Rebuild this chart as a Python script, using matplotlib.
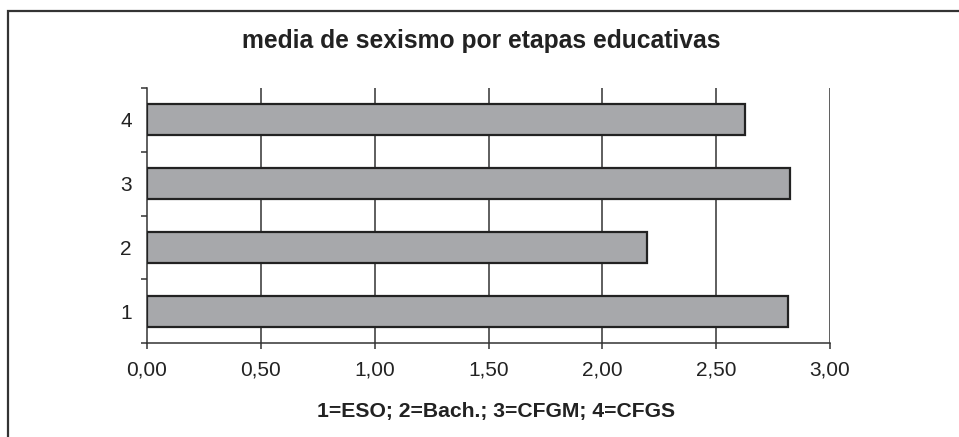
import matplotlib.pyplot as plt
from matplotlib.patches import Rectangle
from matplotlib.ticker import FuncFormatter

# datos
etapas = ['1', '2', '3', '4']
medias = [2.816, 2.195, 2.824, 2.626]
xticks = [0, 0.5, 1.0, 1.5, 2.0, 2.5, 3.0]

plt.rcParams['font.family'] = ['Liberation Sans', 'DejaVu Sans']

fig = plt.figure(figsize=(9.59, 4.37), dpi=100)

# marco exterior del gráfico
fig.patches.append(Rectangle((8 / 959, -0.1), 1.2, 1 - 11 / 437 + 0.1,
                             transform=fig.transFigure, fill=False,
                             edgecolor='#333333', linewidth=1.6, zorder=0))

ax = fig.add_axes([147 / 959, 1 - 343 / 437, (830 - 147) / 959, (343 - 88) / 437])

pos = [1, 2, 3, 4]
ax.barh(pos, medias, height=0.49, color='#a7a8ab', edgecolor='#222222',
        linewidth=1.6, zorder=3)

ax.set_xlim(0, 3.0)
ax.set_ylim(0.5, 4.5)

# rejilla vertical
ax.set_xticks(xticks)
ax.xaxis.set_major_formatter(FuncFormatter(lambda v, p: ('%.2f' % v).replace('.', ',')))
for v in xticks[1:]:
    ax.axvline(v, color='#333333', linewidth=1.1, zorder=1)

# eje y: marcas en los límites, etiquetas en el centro
ax.set_yticks([0.5, 1.5, 2.5, 3.5, 4.5])
ax.set_yticklabels([])
ax.set_yticks(pos, minor=True)
ax.set_yticklabels(etapas, minor=True)
ax.tick_params(axis='y', which='minor', length=0, pad=11, labelsize=15, labelcolor='#222222')
ax.tick_params(axis='y', which='major', length=4, width=1.1, color='#333333')
ax.tick_params(axis='x', length=4.5, width=1.1, color='#333333', labelsize=15, pad=8,
               labelcolor='#222222')

for s in ['top', 'right']:
    ax.spines[s].set_visible(False)
for s in ['left', 'bottom']:
    ax.spines[s].set_color('#333333')
    ax.spines[s].set_linewidth(1.1)

fig.text(481 / 959, 1 - 41 / 437, 'media de sexismo por etapas educativas',
         ha='center', va='center', fontsize=17.7, fontweight='bold', color='#222222')
fig.text(496 / 959, 1 - 412 / 437, '1=ESO; 2=Bach.; 3=CFGM; 4=CFGS',
         ha='center', va='center', fontsize=15.2, fontweight='bold', color='#222222')

fig.savefig('out.png', dpi=100)
